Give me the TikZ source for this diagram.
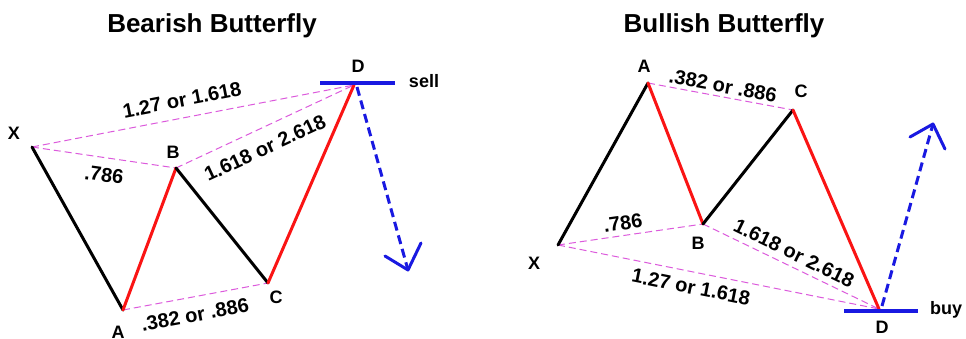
\documentclass[tikz,border=0pt]{standalone}
\usepackage{fontspec}
\setmainfont{Liberation Sans}
\begin{document}
\begin{tikzpicture}[x=1pt,y=-1pt,
  every node/.style={font=\bfseries\fontsize{18}{20}\selectfont, inner sep=0pt},
  ttl/.style={font=\bfseries\fontsize{26}{29}\selectfont, anchor=base},
  ratio/.style={font=\bfseries\fontsize{20}{22}\selectfont},
  leg/.style={line width=3pt, line cap=round, line join=round},
  blackleg/.style={leg, draw=black},
  redleg/.style={leg, draw=redc},
  fib/.style={draw=pinkc, line width=1pt, dash pattern=on 7pt off 4pt},
  bar/.style={draw=bluec, line width=3.5pt},
  trend/.style={draw=bluec, line width=3pt, dash pattern=on 9pt off 5pt},
  head/.style={draw=bluec, line width=3pt, line cap=round, line join=round}]
\definecolor{redc}{RGB}{250,20,20}
\definecolor{pinkc}{RGB}{220,90,220}
\definecolor{bluec}{RGB}{25,25,225}
\useasboundingbox (0,0) rectangle (966,338);
\fill[white] (0,0) rectangle (966,338);

% ---------- Bearish ----------
\node[ttl] (t1) at (212,32) {Bearish Butterfly};
\coordinate (LX) at (32,147);
\coordinate (LA) at (123,310);
\coordinate (LB) at (176,168);
\coordinate (LC) at (268,283);
\coordinate (LD) at (354,85);
\coordinate (LD1) at (320,83);
\coordinate (LD2) at (395,83);
\coordinate (LS) at (357,87);
\coordinate (LT) at (408,270);
\coordinate (LH1) at (385,256);
\coordinate (LH2) at (421,243);

\draw[fib] (LX) -- (LD);
\draw[fib] (LX) -- (LB);
\draw[fib] (LB) -- (LD);
\draw[fib] (LA) -- (LC);
\draw[blackleg] (LX) -- (LA);
\draw[redleg] (LA) -- (LB);
\draw[blackleg] (LB) -- (LC);
\draw[redleg] (LC) -- (LD);
\draw[bar] (LD1) -- (LD2);
\draw[trend] (LS) -- (LT);
\draw[head] (LH1) -- (LT) -- (LH2);

\node (lxl) at (14,133) {X};
\node (lal) at (118,332) {A};
\node (lbl) at (173,152) {B};
\node (lcl) at (276,297) {C};
\node (ldl) at (358,66) {D};
\node (lsell) at (424,81) {sell};
\node[ratio, rotate=11] (lr1) at (182,100) {1.27 or 1.618};
\node[ratio, rotate=-8] (lr2) at (104,175) {.786};
\node[ratio, rotate=25] (lr3) at (265,148) {1.618 or 2.618};
\node[ratio, rotate=10.5] (lr4) at (195,315) {.382 or .886};

% ---------- Bullish ----------
\node[ttl] (t2) at (724,32) {Bullish Butterfly};
\coordinate (RX) at (558,245);
\coordinate (RA) at (648,83);
\coordinate (RB) at (703,224);
\coordinate (RC) at (793,110);
\coordinate (RD) at (879,309);
\coordinate (RD1) at (844,311);
\coordinate (RD2) at (918,311);
\coordinate (RS) at (882,306);
\coordinate (RT) at (933,124);
\coordinate (RH1) at (910,137);
\coordinate (RH2) at (945,149);

\draw[fib] (RA) -- (RC);
\draw[fib] (RX) -- (RB);
\draw[fib] (RB) -- (RD);
\draw[fib] (RX) -- (RD);
\draw[blackleg] (RX) -- (RA);
\draw[redleg] (RA) -- (RB);
\draw[blackleg] (RB) -- (RC);
\draw[redleg] (RC) -- (RD);
\draw[bar] (RD1) -- (RD2);
\draw[trend] (RS) -- (RT);
\draw[head] (RH1) -- (RT) -- (RH2);

\node (rxl) at (534,263) {X};
\node (ral) at (644,66) {A};
\node (rbl) at (698,243) {B};
\node (rcl) at (801,91) {C};
\node (rdl) at (882,327) {D};
\node (rbuy) at (946,310) {buy};
\node[ratio, rotate=-10.5] (rr1) at (723,86) {.382 or .886};
\node[ratio, rotate=8] (rr2) at (623,223) {.786};
\node[ratio, rotate=-26] (rr3) at (794,253) {1.618 or 2.618};
\node[ratio, rotate=-11.3] (rr4) at (691,287) {1.27 or 1.618};
\end{tikzpicture}
\end{document}
